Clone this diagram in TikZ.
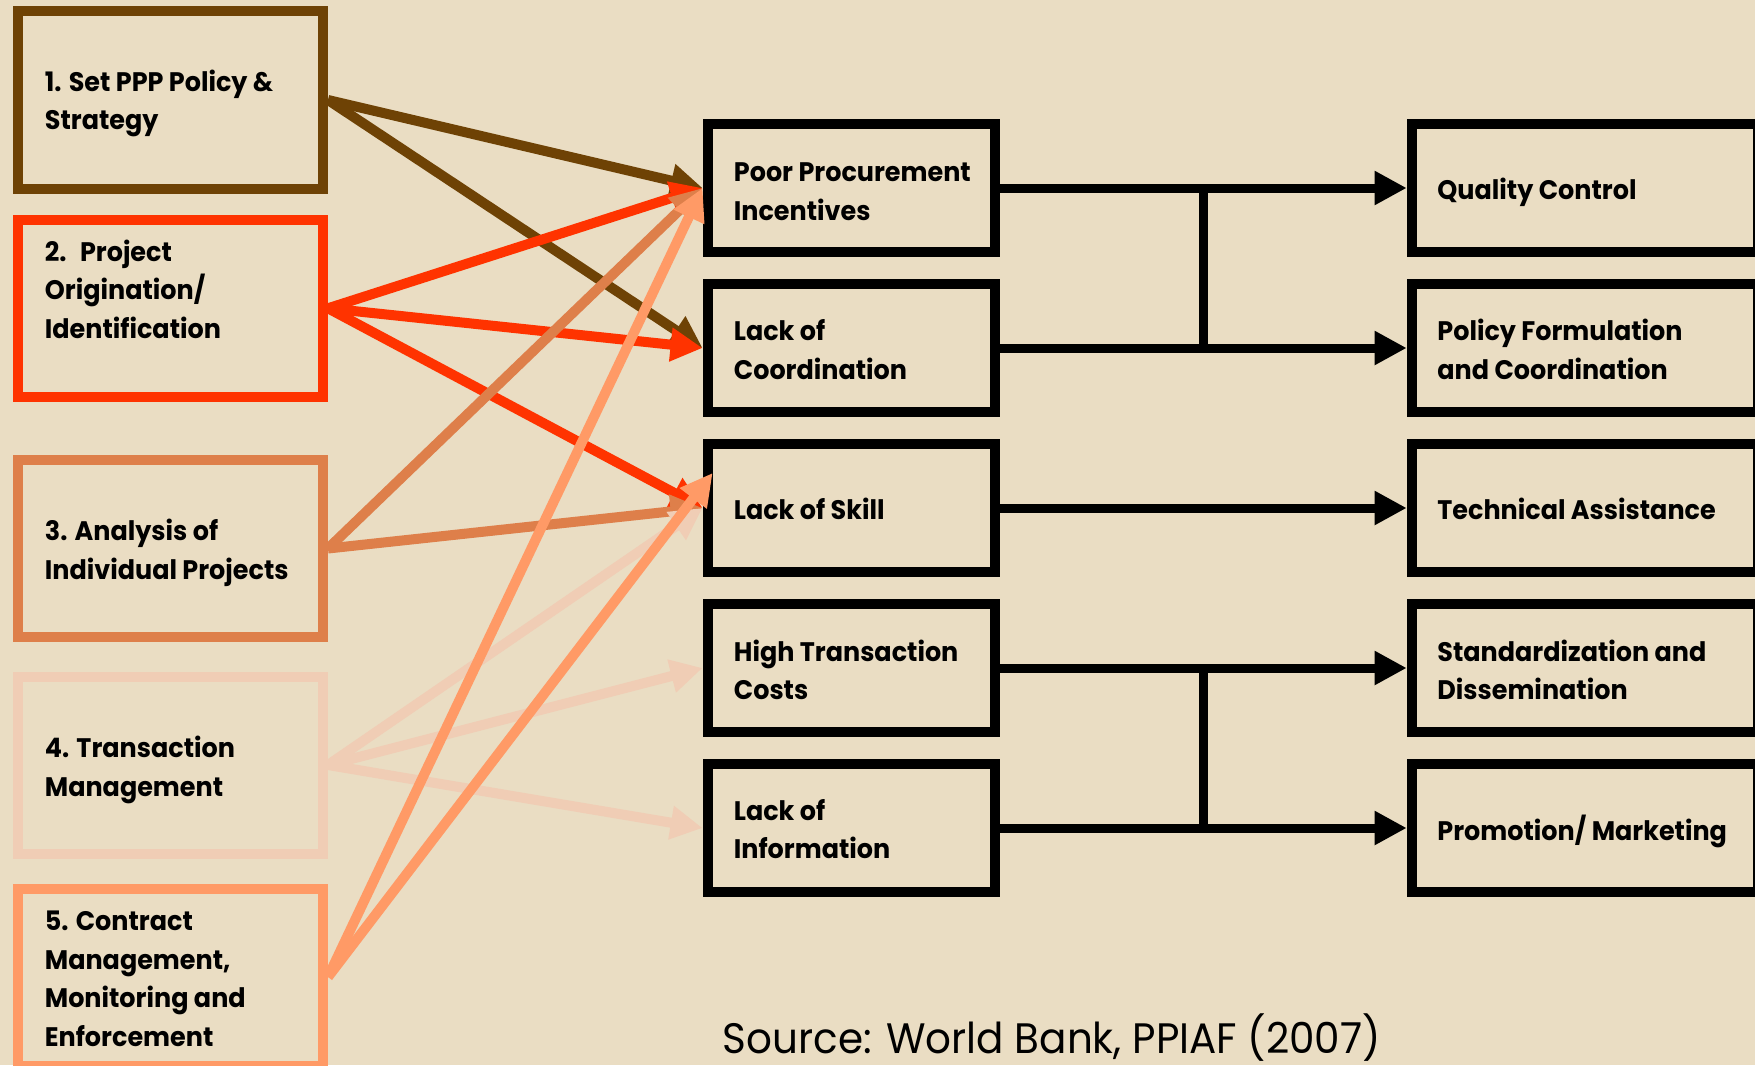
\documentclass[tikz,border=0pt]{standalone}
\usepackage{fontspec}
\setmainfont{Poppins}[FakeStretch=0.95]
\usetikzlibrary{arrows.meta,calc}

\definecolor{paper}{HTML}{EADDC3}
\definecolor{cbrown}{HTML}{6E4205}
\definecolor{cred}{HTML}{FF3300}
\definecolor{cterra}{HTML}{DE7F4A}
\definecolor{cpale}{HTML}{F0CDB5}
\definecolor{clight}{HTML}{FF9A66}

\begin{document}
\begin{tikzpicture}[x=0.5pt,y=-0.5pt,
  stagebox/.style={draw=#1, line width=5pt, minimum width=152.5pt, minimum height=88.5pt, inner sep=0pt},
  issuebox/.style={draw=black, line width=5pt, minimum width=143.8pt, minimum height=64pt, inner sep=0pt},
  remedybox/.style={draw=black, line width=5pt, minimum width=173.15pt, minimum height=64pt, inner sep=0pt},
  label/.style={anchor=base west, inner sep=0pt, align=left,
    font=\fontsize{13.4pt}{19.25pt}\selectfont\bfseries},
  feed/.style={draw=#1, line width=5pt, -{Triangle[length=16pt,width=16pt]}},
  link/.style={draw=black, line width=4.5pt, -{Triangle[length=16pt,width=16pt]}},
  joint/.style={draw=black, line width=4.5pt, line cap=rect}]

\fill[paper] (0,0) rectangle (1755,1065);
\useasboundingbox (0,0) rectangle (1755,1065);

% PPP process stages (labels are placed by the baseline of their last line)
\node[stagebox=cbrown] (s1) at (170.5,100) {};
\node[stagebox=cred]   (s2) at (170.5,308.3) {};
\node[stagebox=cterra] (s3) at (170.5,548.5) {};
\node[stagebox=cpale]  (s4) at (170.5,765) {};
\node[stagebox=clight] (s5) at (170.5,977) {};

\node[label] (t1) at (44.5,130)  {1. Set PPP Policy \&\\Strategy};
\node[label] (t2) at (44.5,338)  {2.\enspace Project\\Origination/\\Identification};
\node[label] (t3) at (44.5,579)  {3. Analysis of\\Individual Projects};
\node[label] (t4) at (44.5,796)  {4. Transaction\\Management};
\node[label] (t5) at (44.5,1046) {5. Contract\\Management,\\Monitoring and\\Enforcement};

% problems
\node[issuebox] (p1) at (851.4,188) {};
\node[issuebox] (p2) at (851.4,348) {};
\node[issuebox] (p3) at (851.4,508) {};
\node[issuebox] (p4) at (851.4,668) {};
\node[issuebox] (p5) at (851.4,828) {};

\node[label] (q1) at (733.5,220)   {Poor Procurement\\Incentives};
\node[label] (q2) at (733.5,379)   {Lack of\\Coordination};
\node[label] (q3) at (733.5,519.5) {Lack of Skill};
\node[label] (q4) at (733.5,699.5) {High Transaction\\Costs};
\node[label] (q5) at (733.5,858.7) {Lack of\\Information};

% remedies
\node[remedybox] (r1) at (1584.85,188) {};
\node[remedybox] (r2) at (1584.85,348) {};
\node[remedybox] (r3) at (1584.85,508) {};
\node[remedybox] (r4) at (1584.85,668) {};
\node[remedybox] (r5) at (1584.85,828) {};

\node[label] (u1) at (1437,199.5) {Quality Control};
\node[label] (u2) at (1437,379)   {Policy Formulation\\and Coordination};
\node[label] (u3) at (1437,519.5) {Technical Assistance};
\node[label] (u4) at (1437,699.5) {Standardization and\\Dissemination};
\node[label] (u5) at (1437,840)   {Promotion/ Marketing};

% stage -> problem arrows
\draw[feed=cbrown] (s1.east) -- (p1.west);
\draw[feed=cbrown] (s1.east) -- (p2.west);
\draw[feed=cred] (s2.east) -- (p1.west);
\draw[feed=cred] (s2.east) -- (p2.west);
\draw[feed=cred] (s2.east) -- (p3.west);
\draw[feed=cterra] (s3.east) -- (p1.west);
\draw[feed=cterra] (s3.east) -- (p3.west);
\draw[feed=cpale] (s4.east) -- (p3.west);
\draw[feed=cpale] (s4.east) -- (p4.west);
\draw[feed=cpale] (s4.east) -- (p5.west);
\coordinate (k3) at ($(p3.west)+(10,-35)$);
\draw[feed=clight] (s5.east) -- (p1.west);
\draw[feed=clight] (s5.east) -- (k3);

% problem -> remedy connectors
\coordinate (j1) at ($(p1.east)!.5!(r1.west)$);
\coordinate (j2) at ($(p2.east)!.5!(r2.west)$);
\coordinate (j4) at ($(p4.east)!.5!(r4.west)$);
\coordinate (j5) at ($(p5.east)!.5!(r5.west)$);
\draw[joint] (j1) -- (j2);
\draw[joint] (j4) -- (j5);
\draw[link] (p1.east) -- (r1.west);
\draw[link] (p2.east) -- (r2.west);
\draw[link] (p3.east) -- (r3.west);
\draw[link] (p4.east) -- (r4.west);
\draw[link] (p5.east) -- (r5.west);

\node[anchor=base west, inner sep=0pt, font=\fontsize{21.3pt}{25pt}\selectfont] (src) at (722.5,1053) {Source: World Bank, PPIAF (2007)};
\end{tikzpicture}
\end{document}
